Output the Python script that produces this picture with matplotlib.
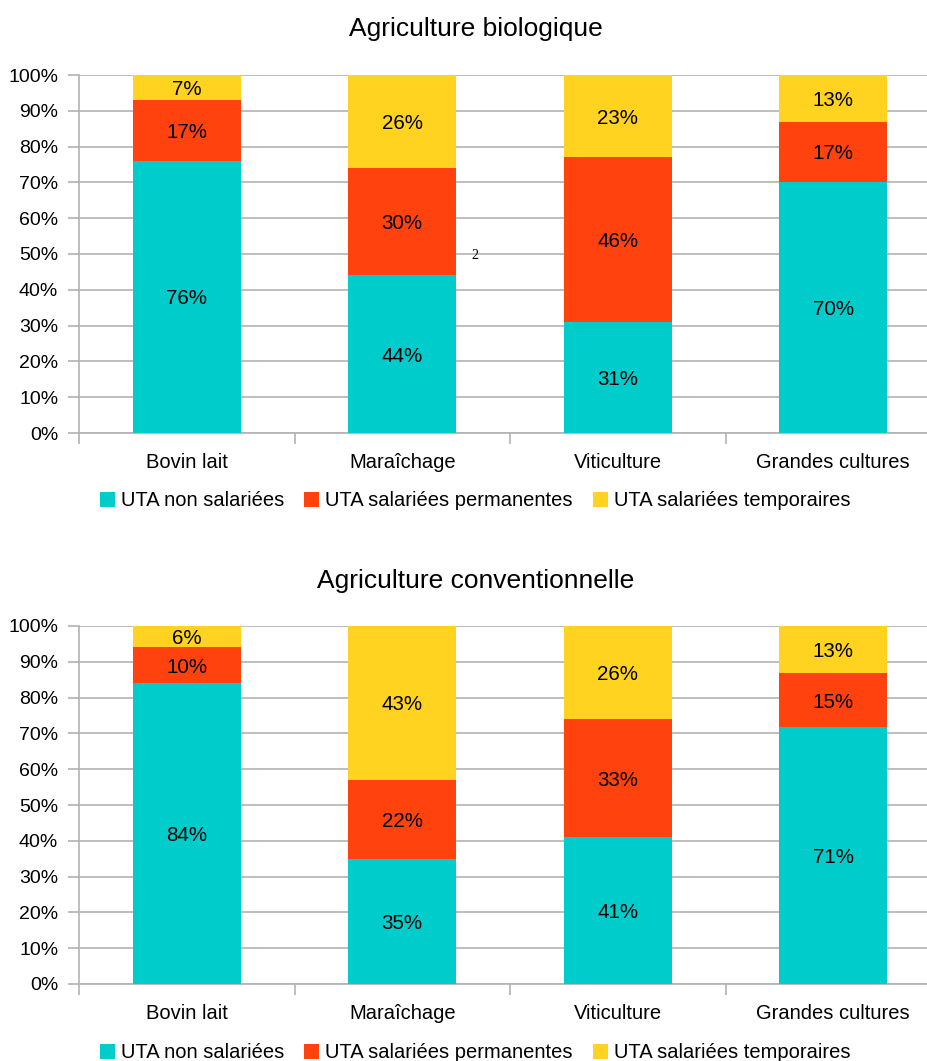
import matplotlib
matplotlib.use("Agg")
import matplotlib.pyplot as plt
import numpy as np

plt.rcParams['font.family'] = ['Liberation Sans', 'DejaVu Sans']

categories = ["Bovin lait", "Maraîchage", "Viticulture", "Grandes cultures"]
series_names = ["UTA non salariées", "UTA salariées permanentes", "UTA salariées temporaires"]
colors = ["#00CCCC", "#FF420E", "#FFD320"]

bio_non_salariees = [76, 44, 31, 70]
bio_permanentes = [17, 30, 46, 17]
bio_temporaires = [7, 26, 23, 13]

conv_non_salariees = [84, 35, 41, 71]
conv_permanentes = [10, 22, 33, 15]
conv_temporaires = [6, 43, 26, 13]

y_ticks = [0, 10, 20, 30, 40, 50, 60, 70, 80, 90, 100]
y_tick_labels = [f"{t}%" for t in y_ticks]

W, H = 928, 1061
fig = plt.figure(figsize=(W / 100, H / 100), dpi=100)

grid_color = "#B3B3B3"


def draw_panel(ax, data):
    data = np.array(data, dtype=float)
    totals = data.sum(axis=0)
    shares = data / totals * 100
    x = np.arange(len(categories))
    bottom = np.zeros(len(categories))
    for i, (vals, pct) in enumerate(zip(data, shares)):
        ax.bar(x, pct, width=0.5, bottom=bottom, color=colors[i],
               label=series_names[i], zorder=3)
        for xi, b, h, v in zip(x, bottom, pct, vals):
            ax.text(xi, b + h / 2, f"{int(v)}%", ha="center",
                    va="center_baseline", fontsize=14.8, color="#000000",
                    zorder=4)
        bottom += pct
    ax.set_xlim(-0.5, len(categories) - 0.5)
    ax.set_ylim(0, 100)
    ax.set_yticks(y_ticks)
    ax.set_yticklabels(y_tick_labels, fontsize=14)
    ax.yaxis.grid(True, color=grid_color, linewidth=1.2, zorder=0)
    ax.set_xticks(np.arange(-0.5, len(categories)), minor=False)
    ax.set_xticklabels([])
    ax.set_xticks(x, minor=True)
    ax.set_xticklabels(categories, minor=True, fontsize=14.5)
    ax.tick_params(axis="x", which="minor", length=0, pad=14.5)
    ax.tick_params(axis="x", which="major", length=8, color=grid_color, width=1.2)
    ax.tick_params(axis="y", length=8, color=grid_color, width=1.2, pad=7)
    for side in ["top", "right"]:
        ax.spines[side].set_visible(False)
    for side in ["left", "bottom"]:
        ax.spines[side].set_color(grid_color)
        ax.spines[side].set_linewidth(1.2)


ax1 = fig.add_axes([79 / W, 1 - 433 / H, 862 / W, 358 / H])
draw_panel(ax1, [bio_non_salariees, bio_permanentes, bio_temporaires])
fig.text(476 / W, 1 - 29 / H, "Agriculture biologique", fontsize=19,
         ha="center", va="center")

ax2 = fig.add_axes([79 / W, 1 - 984 / H, 862 / W, 358 / H])
draw_panel(ax2, [conv_non_salariees, conv_permanentes, conv_temporaires])
fig.text(476 / W, 1 - 581 / H, "Agriculture conventionnelle", fontsize=19,
         ha="center", va="center")

for ax, ypix in [(ax1, 501), (ax2, 1053)]:
    handles, labels = ax.get_legend_handles_labels()
    fig.legend(handles, labels, loc="center", ncol=3, frameon=False,
               bbox_to_anchor=(475 / W, 1 - ypix / H),
               fontsize=14.5, handlelength=0.75, handleheight=0.75,
               handletextpad=0.3, columnspacing=1.0)

fig.text(475 / W, 1 - 256 / H, "2", fontsize=10, ha="center", va="center",
         family="Liberation Serif")

fig.savefig("out.png", dpi=100)
